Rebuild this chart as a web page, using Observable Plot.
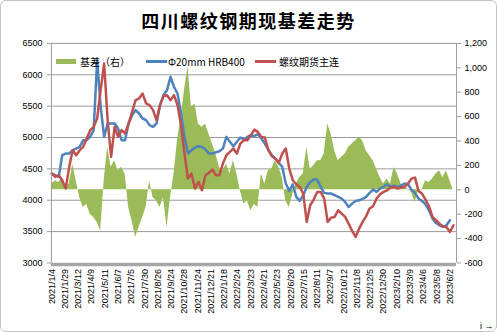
<!DOCTYPE html>
<html><head><meta charset="utf-8">
<script src="https://cdn.jsdelivr.net/npm/d3@7"></script>
<script src="https://cdn.jsdelivr.net/npm/@observablehq/plot@0.6"></script>
<style>
body{margin:0;background:#fff;}
#wrap{position:relative;width:495px;height:330px;border:1px solid #c4c4c4;border-radius:6px;overflow:hidden;font-family:"Noto Sans CJK SC",sans-serif;}
#chart{position:absolute;left:-1px;top:-1px;}
#title{position:absolute;left:0;top:8px;width:100%;text-align:center;font-size:18px;line-height:22px;font-weight:bold;letter-spacing:1.5px;color:#000;}
.lt{position:absolute;top:54px;font-size:10px;line-height:14px;color:#000;white-space:nowrap;}
.sw{position:absolute;}
</style>
</head><body>
<div id="wrap">
<div id="chart"></div>
<div id="title">四川螺纹钢期现基差走势</div>
<div class="sw" style="left:55px;top:58px;width:20px;height:5px;background:#9bbb59"></div>
<div class="lt" style="left:79px">基差（右）</div>
<div class="sw" style="left:145px;top:59px;width:21px;height:2.5px;background:#4f81bd"></div>
<div class="lt" style="left:167px">Φ20mm HRB400</div>
<div class="sw" style="left:254px;top:59px;width:21px;height:2.5px;background:#c0504d"></div>
<div class="lt" style="left:278px">螺纹期货主连</div>
</div>
<script>
// trading-day index step between samples
const step = 5;
const nDays = 580;
const dateLabels = ["2021/1/4","2021/1/29","2021/3/12","2021/4/9","2021/5/11","2021/6/7","2021/7/5","2021/7/30","2021/8/26","2021/9/24","2021/10/28","2021/11/24","2021/12/21","2022/1/18","2022/2/24","2022/3/23","2022/4/21","2022/5/23","2022/6/20","2022/7/15","2022/8/11","2022/9/7","2022/10/12","2022/11/8","2022/12/5","2022/12/30","2023/2/10","2023/3/9","2023/4/6","2023/5/8","2023/6/2"];
const labelStep = 19;
const leftTicks = [3000,3500,4000,4500,5000,5500,6000,6500];
const rightTicks = [-600,-400,-200,0,200,400,600,800,1000,1200];
const rightLabels = ["-600","-400","-200","0","200","400","600","800","1,000","1,200"];

// Φ20mm HRB400 (spot, left axis)
const spot = [4426,4399,4372,4718,4745,4745,4798,4824,4851,4957,4957,5010,5117,6234,5489,5010,5223,5223,5223,5143,4957,4957,5223,5356,5436,5383,5303,5277,5197,5170,
5223,5516,5675,5755,5968,5808,5702,5383,5010,4744,4798,4840,4861,4851,4808,4744,4744,4766,4782,4824,5010,4931,4861,4931,5000,4968,5010,5037,
5021,5053,4984,4904,4808,4718,4665,4596,4532,4266,4149,4255,4053,3989,4080,4212,4292,4329,4329,4212,4117,4106,4106,4080,4053,4026,3973,3893,3946,3989,
4000,4021,4053,4117,4170,4133,4186,4212,4255,4212,4234,4212,4234,4266,4255,4170,4117,4026,3989,3936,3840,3707,3638,3601,3574,3601,3681,null];
// 螺纹期货主连 (futures, left axis)
const futures = [4426,4372,4399,4319,4186,4532,4798,4718,4798,4851,4984,5117,5170,5303,5755,6180,5277,4690,5170,5010,5117,5064,5223,5409,5596,5622,5702,5543,5516,5436,
5277,5516,5659,5675,5596,5675,5516,5197,4744,4345,4425,4186,4292,4159,4399,4436,4489,4399,4399,4585,4718,4771,4824,4744,4904,4957,4957,5037,
5127,5090,5010,5000,4798,4702,4665,4596,4745,4824,4505,4319,4255,4212,4106,3654,3920,4010,4133,4133,4026,3654,3723,3734,3840,3787,3734,3627,3510,3414,
3547,3654,3744,3867,3904,4026,4096,4133,4159,4202,4212,4186,4202,4212,4266,4345,4361,4149,4106,4010,3904,3734,3681,3627,3585,3574,3494,3601];
// 基差 (right axis)
const basis = [47,74,60,100,20,47,210,74,-63,-145,-118,-200,-227,-268,-337,74,348,184,238,156,184,129,-145,-255,-392,-310,-227,-145,74,-63,
-90,-145,-63,-310,-63,129,403,595,814,1006,677,704,540,512,540,458,375,293,184,156,211,129,238,129,-8,-118,-90,-173,
-118,-145,129,47,156,170,238,184,101,-90,-145,-36,47,101,129,348,170,197,238,238,293,540,458,321,238,266,293,348,375,403,
430,403,321,279,238,170,101,47,88,47,184,129,47,19,5,-22,-104,-8,-3,74,60,88,129,156,101,156,74,-8];

const toLeft = b => 3000 + (b + 600) * 3500 / 1800;
const rows = spot.map((v, k) => ({i: k * step, spot: v, fut: futures[k], basis: basis[k]}));
const rightMap = new Map(rightTicks.map((t, k) => [toLeft(t), rightLabels[k]]));
const labelIdx = dateLabels.map((d, k) => k * labelStep);

const chart = Plot.plot({
  width: 497, height: 332,
  marginLeft: 51, marginRight: 40, marginTop: 43, marginBottom: 69,
  x: {domain: [-0.5, nDays - 0.5], axis: null},
  y: {domain: [3000, 6500], axis: null},
  style: {fontFamily: "'Liberation Sans', Arial, sans-serif", fontSize: "9px", color: "#000", background: "transparent"},
  marks: [
    Plot.ruleY(leftTicks.slice(1), {stroke: "#9a9a9a", strokeWidth: 1}),
    Plot.areaY(rows, {x: "i", y1: toLeft(0), y2: d => toLeft(d.basis), fill: "#9bbb59"}),
    Plot.lineY(rows, {x: "i", y: "spot", stroke: "#4f81bd", strokeWidth: 2.5, defined: d => d.spot != null}),
    Plot.lineY(rows, {x: "i", y: "fut", stroke: "#c0504d", strokeWidth: 2.5}),
    Plot.ruleX([-0.5], {stroke: "#9a9a9a"}),
    Plot.ruleX([nDays - 0.5], {stroke: "#9a9a9a"}),
    Plot.ruleY([3000], {stroke: "#a6a6a6", strokeWidth: 3.5, dy: 1.5}),
    Plot.axisY(leftTicks, {anchor: "left", tickSize: 4, tickPadding: 5, stroke: "#9a9a9a", fill: "#000", tickFormat: d => String(d)}),
    Plot.axisY(rightTicks.map(toLeft), {anchor: "right", tickSize: 4, tickPadding: 4, stroke: "#9a9a9a", fill: "#000", tickFormat: d => rightMap.get(d)}),
    Plot.axisX(labelIdx, {anchor: "bottom", tickRotate: -90, tickSize: 0, tickPadding: 6, fill: "#000", tickFormat: d => dateLabels[d / labelStep]})
  ]
});
document.getElementById("chart").appendChild(chart);
</script>
</body></html>
